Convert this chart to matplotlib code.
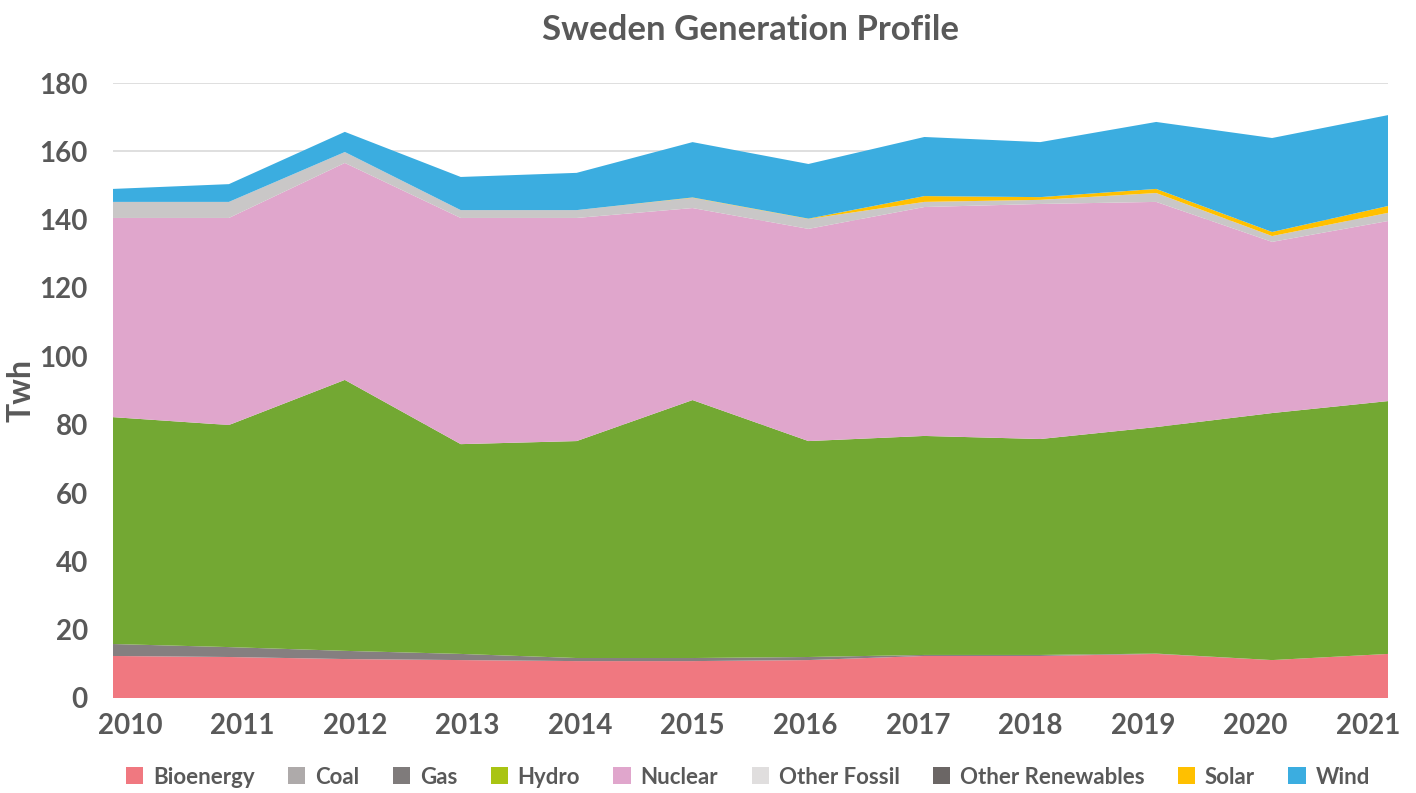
import numpy as np
import matplotlib
matplotlib.use("Agg")
import matplotlib.pyplot as plt
from matplotlib.patches import Patch

years = ["2010", "2011", "2012", "2013", "2014", "2015", "2016", "2017", "2018", "2019", "2020", "2021"]

bioenergy = [12.3, 12.0, 11.4, 11.1, 10.8, 10.8, 11.1, 12.3, 12.3, 12.9, 11.1, 12.9]
coal = [0.0, 0.0, 0.0, 0.0, 0.0, 0.0, 0.0, 0.0, 0.0, 0.0, 0.0, 0.0]
gas = [3.5, 2.9, 2.4, 1.8, 0.9, 0.9, 0.9, 0.3, 0.3, 0.1, 0.0, 0.0]
hydro = [66.4, 65.0, 79.3, 61.4, 63.5, 75.5, 63.2, 64.1, 63.2, 66.3, 72.3, 74.0]
nuclear = [58.3, 60.6, 63.5, 66.2, 65.3, 56.2, 62.1, 67.0, 68.8, 65.9, 50.1, 52.7]
other_fossil = [4.7, 4.7, 3.2, 2.3, 2.3, 3.0, 2.9, 1.5, 1.2, 2.6, 1.7, 2.4]
other_renewables = [0.0, 0.0, 0.0, 0.0, 0.0, 0.0, 0.0, 0.0, 0.0, 0.0, 0.0, 0.0]
solar = [0.0, 0.0, 0.0, 0.0, 0.0, 0.1, 0.1, 1.7, 0.8, 1.2, 1.2, 2.0]
wind = [3.8, 5.2, 5.9, 9.7, 10.9, 16.2, 16.0, 17.3, 16.1, 19.6, 27.5, 26.6]

series_names = ["Bioenergy", "Coal", "Gas", "Hydro", "Nuclear", "Other Fossil",
                "Other Renewables", "Solar", "Wind"]
series_values = [bioenergy, coal, gas, hydro, nuclear, other_fossil,
                 other_renewables, solar, wind]
fill_colors = ["#F07880", "#AEAAAA", "#857F80", "#73A833", "#E0A6CC", "#C9C7C7",
               "#6B6665", "#FFC000", "#3BADE0"]
legend_colors = ["#F07880", "#AEAAAA", "#7F7B7B", "#A9C413", "#E0A6CC", "#E0DEDE",
                 "#6B6665", "#FFC000", "#3BADE0"]

FONT = ["Lato", "DejaVu Sans"]
TXT = "#595959"
plt.rcParams["font.family"] = FONT

fig = plt.figure(figsize=(14.16, 7.93), dpi=100)
ax = fig.add_axes([113 / 1416, 95 / 793, 1275 / 1416, 615 / 793])

x = np.arange(len(years))
ax.stackplot(x, *series_values, colors=fill_colors, linewidth=0, zorder=2)

ax.set_xlim(0, len(years) - 1)
ax.set_ylim(0, 180)
ax.set_yticks(np.arange(0, 181, 20))
ax.yaxis.grid(True, color="#D9D9D9", linewidth=1.2, zorder=0)
ax.set_axisbelow(True)
for s in ax.spines.values():
    s.set_visible(False)

n = len(years)
ax.set_xticks(np.linspace(0.147, n - 1 - 0.173, n))
ax.set_xticklabels(years)
ax.tick_params(axis="both", length=0, labelsize=20, labelcolor=TXT)
ax.tick_params(axis="x", pad=11)
ax.tick_params(axis="y", pad=18)
for lab in ax.get_xticklabels() + ax.get_yticklabels():
    lab.set_fontweight("bold")

ax.set_ylabel("Twh", fontsize=23, fontweight="bold", color=TXT)
ax.yaxis.label.set_va("center")
ax.yaxis.set_label_coords((21 - 113) / 1275, 0.5)
fig.text(750 / 1416, 1 - 30 / 793, "Sweden Generation Profile", ha="center", va="center",
         fontsize=25, fontweight="bold", color=TXT)

handles = [Patch(facecolor=c, edgecolor="none") for c in legend_colors]
leg = fig.legend(handles, series_names, loc="center", bbox_to_anchor=(748 / 1416, 1 - 777 / 793),
                 ncol=9, frameon=False, fontsize=16, handlelength=0.77, handleheight=0.77,
                 handletextpad=0.45, columnspacing=1.5)
for t in leg.get_texts():
    t.set_color(TXT)
    t.set_fontweight("bold")

fig.savefig("out.png", dpi=100)
